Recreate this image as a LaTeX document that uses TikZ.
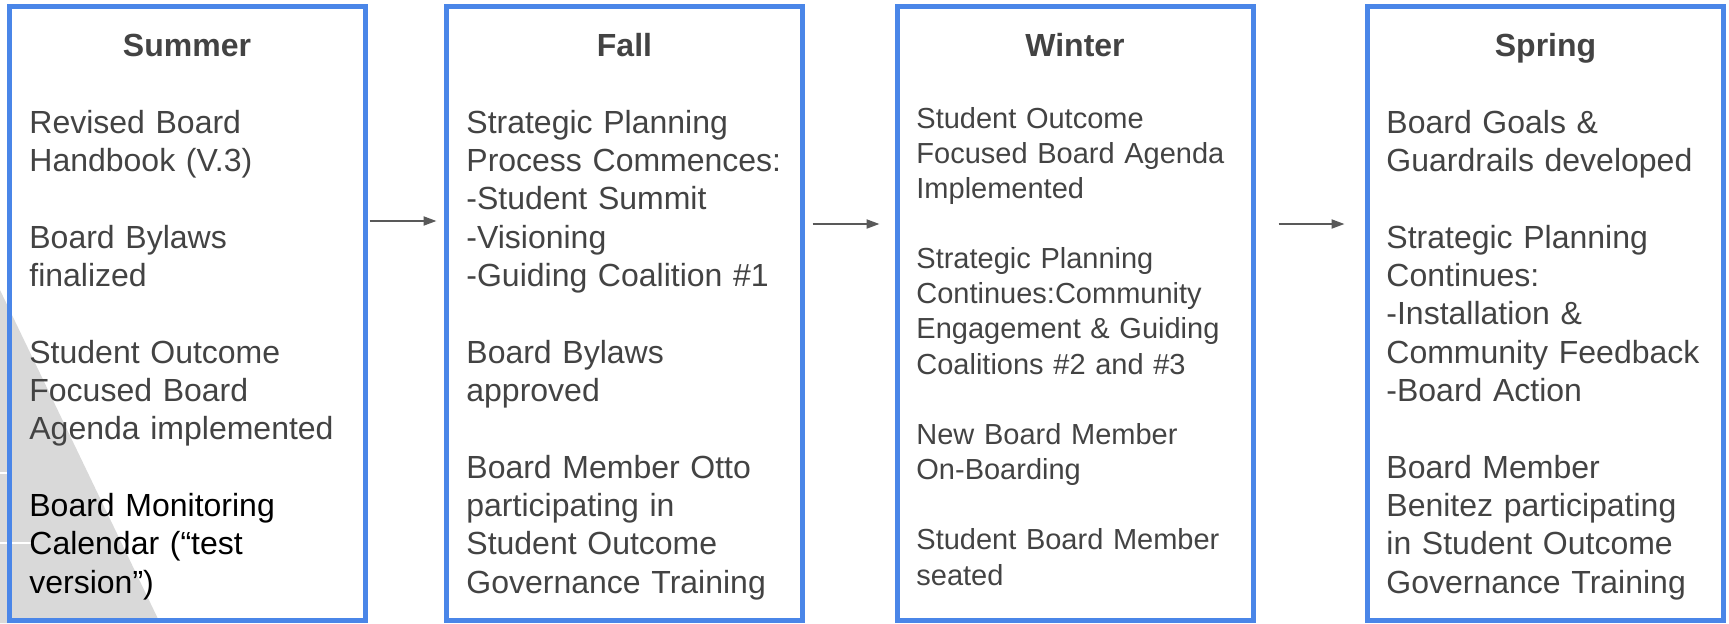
\documentclass[tikz,border=0pt]{standalone}
\usepackage{fontspec}
\setmainfont{Liberation Sans}
\usetikzlibrary{arrows.meta}
\definecolor{boxblue}{HTML}{4A86E8}
\definecolor{txtgray}{HTML}{434343}
\definecolor{arrgray}{HTML}{595959}
\definecolor{bggray}{HTML}{D9D9D9}
\begin{document}
\begin{tikzpicture}[x=0.5pt,y=-0.5pt,
  season/.style={draw=boxblue, line width=2.5pt, minimum width=178pt, minimum height=307pt, inner sep=0pt},
  title/.style={anchor=base, font=\bfseries\fontsize{16}{19.17}\selectfont, text=txtgray, inner sep=0pt},
  body/.style={anchor=base west, font=\fontsize{16}{19.17}\selectfont, text=txtgray, inner sep=0pt, text width=172pt, align=left},
  smallbody/.style={body, font=\fontsize{14.5}{17.58}\selectfont},
  link/.style={draw=arrgray, line width=1pt, -{Triangle[length=6.5pt,width=4.5pt]}}
]
\useasboundingbox (0,0) rectangle (1729,623);
% background shape
\fill[bggray] (0,290) -- (160,623) -- (0,623) -- cycle;
\draw[white, line width=0.6pt] (0,473) -- (7,473);
\draw[white, line width=0.6pt] (0,543) -- (33,543);
% boxes
\node[season] (summer) at (187,313) {};
\node[season] (fall) at (624.5,313) {};
\node[season] (winter) at (1075,313) {};
\node[season] (spring) at (1545.5,313) {};
% titles
\node[title] (summerT) at (187,56) {Summer};
\node[title] (fallT) at (624.5,56) {Fall};
\node[title] (winterT) at (1075,56) {Winter};
\node[title] (springT) at (1545.5,56) {Spring};
% bodies
\node[body] (summerB) at (29,133) {Revised Board\\Handbook (V.3)\\[19.17pt]
Board Bylaws\\finalized\\[19.17pt]
Student Outcome\\Focused Board\\Agenda implemented\\[19.17pt]
{\color{black}Board Monitoring\\Calendar (“test\\version”)}};
\node[body] (fallB) at (466,133) {Strategic Planning\\Process Commences:\\-Student Summit\\-Visioning\\-Guiding Coalition \#1\\[19.17pt]
Board Bylaws\\approved\\[19.17pt]
Board Member Otto\\participating in\\Student Outcome\\Governance Training};
\node[smallbody] (winterB) at (916,128) {Student Outcome\\Focused Board Agenda\\Implemented\\[17.58pt]
Strategic Planning\\Continues:Community\\Engagement \& Guiding\\Coalitions \#2 and \#3\\[17.58pt]
New Board Member\\On-Boarding\\[17.58pt]
Student Board Member\\seated};
\node[body] (springB) at (1386,133) {Board Goals \&\\Guardrails developed\\[19.17pt]
Strategic Planning\\Continues:\\-Installation \&\\Community Feedback\\-Board Action\\[19.17pt]
Board Member\\Benitez participating\\in Student Outcome\\Governance Training};
% connectors
\draw[link, shorten <=1pt, shorten >=3.75pt] (summer.east |- 0,221) -- (fall.west |- 0,221);
\draw[link, shorten <=3.75pt, shorten >=7.5pt] (fall.east |- 0,224) -- (winter.west |- 0,224);
\draw[link, shorten <=11.5pt, shorten >=10.25pt] (winter.east |- 0,224) -- (spring.west |- 0,224);
\end{tikzpicture}
\end{document}
